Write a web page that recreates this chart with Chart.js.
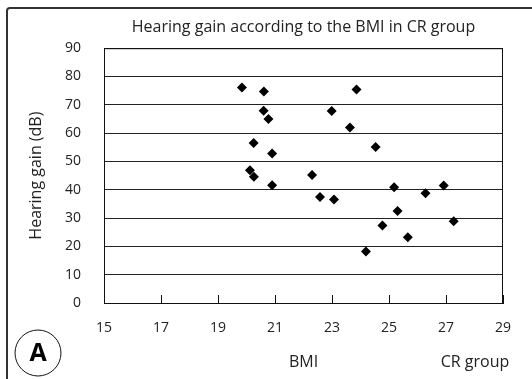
<!DOCTYPE html>
<html>
<head>
<meta charset="utf-8">
<script src="https://cdn.jsdelivr.net/npm/chart.js@4"></script>
<style>
  html, body { margin: 0; padding: 0; background: #fff; }
  #wrap { width: 532px; height: 379px; position: relative; }
</style>
</head>
<body>
<div id="wrap"><canvas id="myChart" width="532" height="379"></canvas></div>
<script>
// BMI (x) and hearing gain in dB (y)
const bmi = [19.84, 20.61, 20.6, 20.77, 20.25, 20.9, 20.12, 20.26, 20.9,
             22.3, 22.58, 23.07, 22.99, 23.63, 23.86, 24.53, 24.19, 24.77,
             25.18, 25.3, 25.66, 26.28, 26.92, 27.27];
const gain = [76.1, 74.7, 67.9, 65.0, 56.5, 52.8, 46.9, 44.6, 41.6,
              45.2, 37.4, 36.6, 67.8, 62.0, 75.4, 55.1, 18.2, 27.4,
              40.9, 32.5, 23.2, 38.8, 41.5, 28.9];
const xTicks = [15, 17, 19, 21, 23, 25, 27, 29];
const yTicks = [0, 10, 20, 30, 40, 50, 60, 70, 80, 90];

const FONT = "'Open Sans', 'DejaVu Sans', sans-serif";

let points = [];
for (let i = 0; i < bmi.length; i++) {
    points.push({ x: bmi[i], y: gain[i] });
}

// frame, inner x ticks, outer border, "CR group" and the circled A
const extras = {
    id: 'extras',
    afterDraw(chart) {
        const ctx = chart.ctx;
        const area = chart.chartArea;
        const xs = chart.scales.x;
        ctx.save();
        ctx.strokeStyle = '#111';
        ctx.lineWidth = 1;
        ctx.strokeRect(area.left + 0.5, area.top + 0.5, area.right - area.left - 1, area.bottom - area.top);
        // ticks pointing into the plot
        ctx.beginPath();
        for (const v of xTicks) {
            const px = Math.round(xs.getPixelForValue(v)) + 0.5;
            ctx.moveTo(px, area.bottom);
            ctx.lineTo(px, area.bottom - 8);
        }
        ctx.stroke();
        // outer border (top and left only)
        ctx.strokeStyle = '#333';
        ctx.lineWidth = 2;
        ctx.beginPath();
        ctx.moveTo(7, 379);
        ctx.lineTo(7, 11);
        ctx.quadraticCurveTo(7, 8, 10, 8);
        ctx.lineTo(532, 8);
        ctx.stroke();
        // CR group label
        ctx.fillStyle = '#222';
        ctx.font = '16px ' + FONT;
        ctx.textAlign = 'center';
        ctx.textBaseline = 'middle';
        ctx.fillText('CR group', 475, 362);
        // circled A
        ctx.lineWidth = 1;
        ctx.strokeStyle = '#111';
        ctx.beginPath();
        ctx.arc(38, 353, 23, 0, Math.PI * 2);
        ctx.stroke();
        ctx.fillStyle = '#000';
        ctx.font = 'bold 25px ' + FONT;
        ctx.fillText('A', 38, 354);
        ctx.restore();
    }
};

var ctx = document.getElementById('myChart');
var chart = new Chart(ctx, {
    type: 'scatter',
    data: {
        datasets: [
            {
                label: 'Hearing gain',
                data: points,
                pointStyle: 'rectRot',
                pointRadius: 5,
                pointBackgroundColor: '#000',
                pointBorderColor: '#000',
                pointBorderWidth: 0,
                showLine: false,
            },
        ],
    },
    options: {
        responsive: false,
        animation: false,
        layout: { padding: { left: 0, right: 29, top: 0, bottom: 0 } },
        scales: {
            x: {
                type: 'linear',
                min: 15,
                max: 29,
                afterBuildTicks: (scale) => { scale.ticks = xTicks.map(v => ({ value: v })); },
                afterFit: (scale) => { scale.height = 76; },
                grid: { display: false, drawTicks: false },
                border: { display: true, color: '#111', width: 1 },
                ticks: { padding: 17, color: '#222', font: { family: FONT, size: 14 } },
                title: {
                    display: true,
                    text: 'BMI',
                    color: '#222',
                    font: { family: FONT, size: 16 },
                    padding: { top: 0, bottom: 7 },
                },
            },
            y: {
                min: 0,
                max: 90,
                afterBuildTicks: (scale) => { scale.ticks = yTicks.map(v => ({ value: v })); },
                afterFit: (scale) => { scale.width = 104; },
                grid: { display: true, color: '#222', lineWidth: 1, drawTicks: false },
                border: { display: true, color: '#111', width: 1 },
                ticks: { padding: 23, color: '#222', font: { family: FONT, size: 14 } },
                title: {
                    display: true,
                    text: 'Hearing gain (dB)',
                    color: '#222',
                    font: { family: FONT, size: 16 },
                    padding: { top: 27, bottom: 0 },
                },
            },
        },
        plugins: {
            legend: { display: false },
            tooltip: { enabled: false },
            title: {
                display: true,
                fullSize: false,
                text: 'Hearing gain according to the BMI in CR group',
                color: '#222',
                font: { family: FONT, size: 16, weight: 'normal' },
                padding: { top: 18, bottom: 11 },
            },
        },
    },
    plugins: [extras],
});
</script>
</body>
</html>
